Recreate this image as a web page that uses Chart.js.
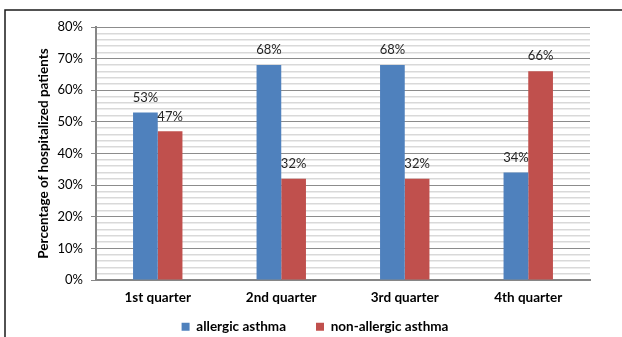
<!DOCTYPE html>
<html>
<head>
<meta charset="utf-8">
<script src="https://cdn.jsdelivr.net/npm/chart.js@4"></script>
<style>
  html, body { margin: 0; padding: 0; background: #fff; }
  #wrap { width: 622px; height: 337px; }
</style>
</head>
<body>
<div id="wrap"><canvas id="c" width="622" height="337"></canvas></div>
<script>
const categories = ['1st quarter', '2nd quarter', '3rd quarter', '4th quarter'];
const allergic = [53, 68, 68, 34];
const nonAllergic = [47, 32, 32, 66];
const seriesNames = ['allergic asthma', 'non-allergic asthma'];
const yTitle = 'Percentage of hospitalized patients';

const FONT = 'Lato, "Open Sans", sans-serif';

// Frame around the chart (top and left edges)
const framePlugin = {
  id: 'frame',
  beforeDraw(chart) {
    const ctx = chart.ctx;
    ctx.save();
    ctx.strokeStyle = '#1a1a1a';
    ctx.lineWidth = 1.5;
    ctx.beginPath();
    ctx.moveTo(5, 337);
    ctx.lineTo(5, 10);
    ctx.lineTo(622, 10);
    ctx.stroke();
    ctx.restore();
  }
};

// Pull the legend up close under the category labels
const legendOffset = {
  id: 'legendOffset',
  afterLayout(chart) {
    const lg = chart.legend;
    if (!lg) return;
    lg.top = chart.chartArea.bottom + 10;
    lg.bottom = chart.height;
    lg.height = lg.bottom - lg.top;
    lg.left += 4;
    lg.right += 4;
  }
};

// Value labels above each bar
const valueLabels = {
  id: 'valueLabels',
  afterDatasetsDraw(chart) {
    const ctx = chart.ctx;
    ctx.save();
    ctx.font = '13px ' + FONT;
    ctx.fillStyle = '#262626';
    ctx.textAlign = 'center';
    ctx.textBaseline = 'middle';
    chart.data.datasets.forEach((ds, i) => {
      chart.getDatasetMeta(i).data.forEach((bar, j) => {
        ctx.fillText(ds.data[j] + '%', bar.x, bar.y - 15);
      });
    });
    ctx.restore();
  }
};

new Chart(document.getElementById('c'), {
  type: 'bar',
  data: {
    labels: categories,
    datasets: [
      { label: seriesNames[0], data: allergic, backgroundColor: '#4F81BD' },
      { label: seriesNames[1], data: nonAllergic, backgroundColor: '#C0504D' }
    ]
  },
  options: {
    responsive: false,
    animation: false,
    devicePixelRatio: 1,
    layout: { padding: { left: 32, right: 32, top: 27, bottom: 0 } },
    datasets: { bar: { categoryPercentage: 0.4, barPercentage: 1.0 } },
    plugins: {
      legend: {
        position: 'bottom',
        maxHeight: 30,
        labels: {
          boxWidth: 8, boxHeight: 8, padding: 30,
          color: '#000',
          font: { family: FONT, size: 13.5, weight: 'bold' }
        }
      },
      tooltip: { enabled: false }
    },
    scales: {
      x: {
        afterFit(scale) { scale.height = 27; },
        grid: { display: false, drawTicks: false },
        border: { color: '#868686', width: 2 },
        ticks: {
          color: '#000', padding: 10,
          font: { family: FONT, size: 13.5, weight: 'bold' }
        }
      },
      y: {
        min: 0, max: 80,
        afterFit(scale) { scale.width = 64; },
        border: { color: '#868686', width: 2 },
        grid: {
          color: c => (c.tick && c.tick.value % 10 === 0) ? '#8c8c8c' : '#d9d9d9',
          tickColor: c => (c.tick && c.tick.value % 10 === 0) ? '#868686' : 'rgba(0,0,0,0)',
          tickLength: 5,
          lineWidth: c => (c.tick && c.tick.value % 10 === 0) ? 1 : 1.5
        },
        ticks: {
          stepSize: 2, autoSkip: false, padding: 8,
          color: '#000',
          font: { family: FONT, size: 13 },
          callback: v => (v % 10 === 0) ? v + '%' : ''
        },
        title: {
          display: true, text: yTitle, color: '#000',
          font: { family: FONT, size: 13.5, weight: 'bold' },
          padding: { top: 4, bottom: 0 }
        }
      }
    }
  },
  plugins: [framePlugin, legendOffset, valueLabels]
});
</script>
</body>
</html>
